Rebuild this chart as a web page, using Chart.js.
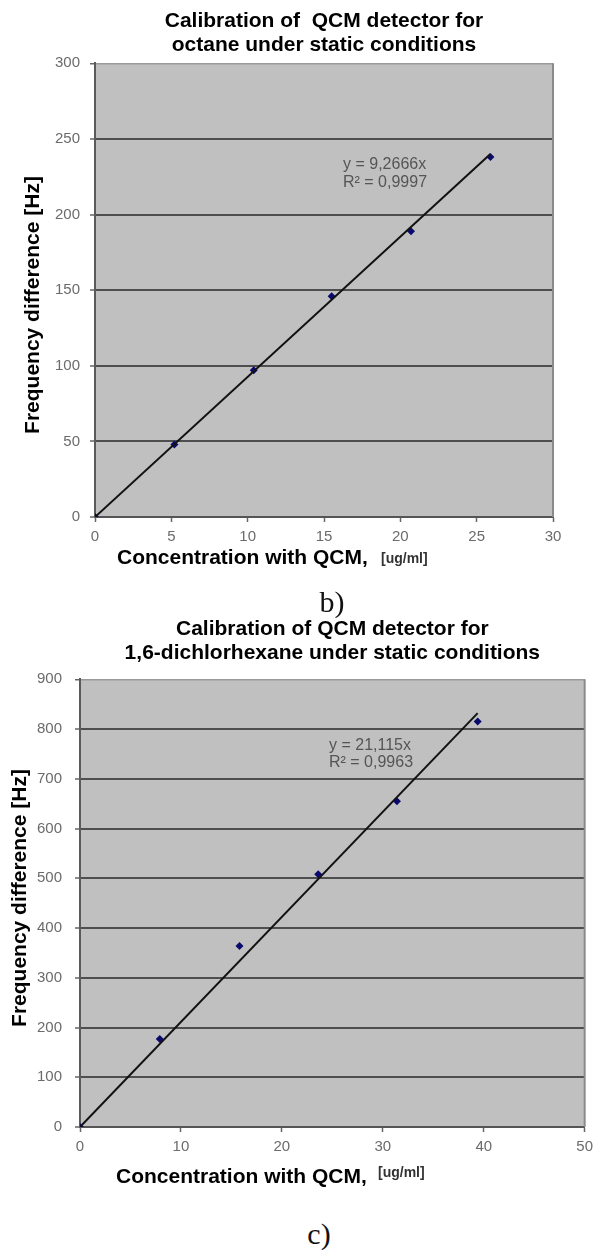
<!DOCTYPE html>
<html>
<head>
<meta charset="utf-8">
<script src="https://cdn.jsdelivr.net/npm/chart.js@4.4.1/dist/chart.umd.min.js"></script>
<style>
  html, body { margin:0; padding:0; background:#fff; }
  body { width:599px; height:1250px; position:relative; overflow:hidden; }
  canvas { position:absolute; left:0; }
  #c1 { top:0; }
  #c2 { top:600px; }
  .lbl { position:absolute; font-family:"Liberation Serif","Times New Roman",serif; font-size:30px; line-height:30px; color:#111; transform:translate(-50%,-50%); }
</style>
</head>
<body>
<canvas id="c1" width="599" height="590"></canvas>
<canvas id="c2" width="599" height="610"></canvas>
<div class="lbl" style="left:332px;top:602px;">b)</div>
<div class="lbl" style="left:319px;top:1234px;">c)</div>
<script>
// ---- data: chart b) octane ----
const octaneConc = [0, 5.2, 10.4, 15.5, 20.7, 25.9];
const octaneFreq = [0, 48, 97, 146, 189, 238];
const octaneTrendX = [0, 25.9];
const octaneTrendY = [0, 240];
const octaneTitle = ['Calibration of  QCM detector for', 'octane under static conditions'];
const octaneEq = ['y = 9,2666x', 'R\u00B2 = 0,9997'];

// ---- data: chart c) 1,6-dichlorhexane ----
const dichlorConc = [0, 7.9, 15.8, 23.6, 31.4, 39.4];
const dichlorFreq = [0, 177, 364, 508, 655, 815];
const dichlorTrendX = [0, 39.4];
const dichlorTrendY = [0, 832];
const dichlorTitle = ['Calibration of QCM detector for', '1,6-dichlorhexane under static conditions'];
const dichlorEq = ['y = 21,115x', 'R\u00B2 = 0,9963'];

const yAxisTitle = 'Frequency difference [Hz]';
const xAxisTitle = 'Concentration with QCM,';
const xAxisUnit = '[ug/ml]';

const FONT = '"Liberation Sans", Arial, sans-serif';
Chart.defaults.font.family = FONT;

const decor = {
  id: 'decor',
  beforeDraw(chart, args, opts) {
    const {ctx, chartArea: a} = chart;
    ctx.save();
    ctx.fillStyle = '#c0c0c0';
    ctx.fillRect(a.left, a.top, a.width, a.height);
    ctx.restore();
  },
  afterDraw(chart, args, opts) {
    const {ctx, chartArea: a} = chart;
    ctx.save();
    ctx.strokeStyle = '#8a8a8a';
    ctx.lineWidth = 2;
    ctx.beginPath();
    ctx.moveTo(a.right, a.top);
    ctx.lineTo(a.right, a.bottom);
    ctx.stroke();
    (opts.texts || []).forEach(t => {
      ctx.save();
      ctx.font = t.font;
      ctx.fillStyle = t.color || '#000';
      ctx.textAlign = t.align || 'left';
      ctx.textBaseline = 'middle';
      ctx.translate(t.x, t.y);
      if (t.rot) ctx.rotate(t.rot * Math.PI / 180);
      ctx.fillText(t.text, 0, 0);
      ctx.restore();
    });
    ctx.restore();
  }
};

function build(id, cfg) {
  const pts = cfg.x.map((v, i) => ({x: v, y: cfg.y[i]}));
  const trend = cfg.tx.map((v, i) => ({x: v, y: cfg.ty[i]}));
  return new Chart(document.getElementById(id), {
    type: 'scatter',
    data: {
      datasets: [
        { data: trend, showLine: true, borderColor: '#111', borderWidth: 2, pointRadius: 0, order: 1 },
        { data: pts, pointStyle: 'rectRot', pointRadius: 4, backgroundColor: '#0a0a6e', borderColor: '#0a0a6e', borderWidth: 0, order: 2 }
      ]
    },
    options: {
      responsive: false,
      animation: false,
      devicePixelRatio: 1,
      layout: { padding: { left: 0, right: cfg.padRight, top: 0, bottom: 0 } },
      plugins: {
        legend: { display: false },
        tooltip: { enabled: false },
        title: {
          display: true, fullSize: false, text: cfg.title, color: '#000',
          font: { family: FONT, size: 21, weight: 'bold', lineHeight: 1.15 },
          padding: { top: cfg.titleTop, bottom: cfg.titleBottom }
        },
        decor: { texts: cfg.texts }
      },
      scales: {
        x: {
          type: 'linear', min: 0, max: cfg.xmax,
          ticks: { stepSize: cfg.xstep, color: '#6b6b6b', font: { size: 15 }, padding: 6, maxRotation: 0 },
          grid: { drawOnChartArea: false, drawTicks: true, tickLength: 5, tickColor: '#666', tickWidth: 1.5 },
          border: { display: true, color: '#555', width: 2 },
          afterFit(s) { s.height = cfg.xAxisH; }
        },
        y: {
          type: 'linear', min: 0, max: cfg.ymax,
          ticks: { stepSize: cfg.ystep, color: '#6b6b6b', font: { size: 15 }, padding: cfg.yPad },
          grid: {
            color: c => (c.tick && c.tick.value === cfg.ymax) ? '#9a9a9a' : '#4e4e4e',
            lineWidth: c => (c.tick && c.tick.value === cfg.ymax) ? 1.5 : 2,
            tickLength: 5, tickColor: '#666', tickWidth: 1.5
          },
          border: { display: true, color: '#5a5a5a', width: 2 },
          afterFit(s) { s.width = cfg.yAxisW; }
        }
      }
    },
    plugins: [decor]
  });
}

const bold21 = 'bold 21px ' + FONT;
const bold14 = 'bold 14px ' + FONT;
const eqFont = '16px ' + FONT;

build('c1', {
  x: octaneConc, y: octaneFreq, tx: octaneTrendX, ty: octaneTrendY,
  title: octaneTitle, titleTop: 9, titleBottom: 6,
  xmax: 30, xstep: 5, ymax: 300, ystep: 50,
  padRight: 46, yAxisW: 95, xAxisH: 590 - 517, yPad: 10,
  texts: [
    { text: yAxisTitle, x: 33, y: 305, rot: -90, align: 'center', font: bold21 },
    { text: xAxisTitle, x: 117, y: 558, font: bold21 },
    { text: xAxisUnit, x: 381, y: 559, font: bold14, color: '#333' },
    { text: octaneEq[0], x: 343, y: 165, font: eqFont, color: '#555' },
    { text: octaneEq[1], x: 343, y: 183, font: eqFont, color: '#555' }
  ]
});

build('c2', {
  x: dichlorConc, y: dichlorFreq, tx: dichlorTrendX, ty: dichlorTrendY,
  title: dichlorTitle, titleTop: 17, titleBottom: 14,
  xmax: 50, xstep: 10, ymax: 900, ystep: 100,
  padRight: 10, yAxisW: 80, xAxisH: 610 - 527, yPad: 13,
  texts: [
    { text: yAxisTitle, x: 20, y: 298, rot: -90, align: 'center', font: bold21 },
    { text: xAxisTitle, x: 116, y: 577, font: bold21 },
    { text: xAxisUnit, x: 378, y: 573, font: bold14, color: '#333' },
    { text: dichlorEq[0], x: 329, y: 146, font: eqFont, color: '#555' },
    { text: dichlorEq[1], x: 329, y: 163, font: eqFont, color: '#555' }
  ]
});
</script>
</body>
</html>
